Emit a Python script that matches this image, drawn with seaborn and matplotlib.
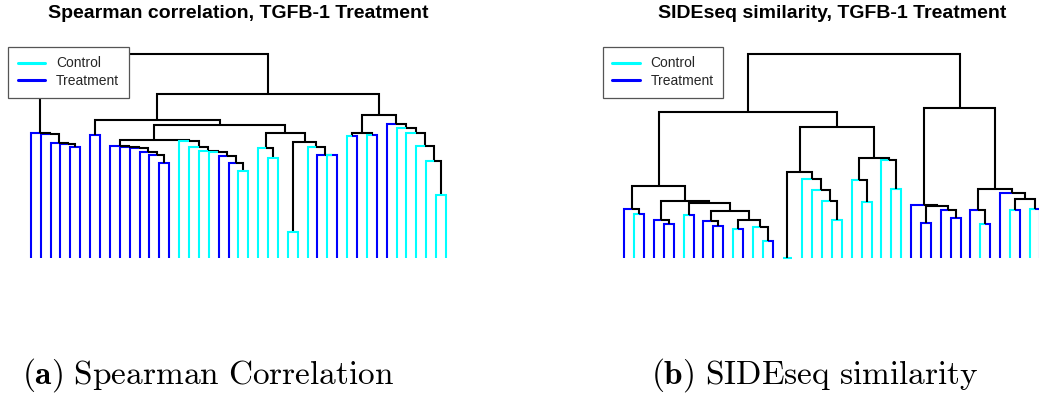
import matplotlib
matplotlib.use("Agg")
import matplotlib.pyplot as plt
from matplotlib.lines import Line2D
import pandas as pd
import seaborn as sns

# Sample groups in dendrogram leaf order
spearman_groups = (["Treatment"] * 15 + ["Control"] * 4 + ["Treatment"] * 2 + ["Control"] * 8
                   + ["Treatment", "Control", "Treatment", "Control", "Treatment", "Control",
                      "Treatment", "Treatment"] + ["Control"] * 6)
sideseq_groups = (["Treatment", "Control", "Treatment", "Treatment", "Treatment", "Treatment",
                   "Control", "Treatment", "Treatment", "Treatment", "Treatment", "Control",
                   "Treatment", "Control", "Control", "Treatment", "Control", "Control"]
                  + ["Control"] * 11 + ["Treatment"] * 7
                  + ["Control", "Treatment", "Treatment", "Control", "Treatment", "Control", "Treatment"])

# hclust-style merges: negative = sample (1-based), positive = earlier merge row (1-based)
spearman_merge_a = [-5, -4, -3, -2, -1, -7, -14, -13, -12, -11, -10, -9, -22, -21, -20, -19, -18,
                    -17, -16, 12, -25, -24, -27, -31, -30, -29, 23, 22, 20, 6, -33, -35, 31, -42,
                    -41, -40, -39, -38, -37, 33, 30, 5]
spearman_merge_b = [-6, 1, 2, 3, 4, -8, -15, 7, 8, 9, 10, 11, -23, 13, 14, 15, 16, 17, 18, 19, -26,
                    21, -28, -32, 24, 25, 26, 27, 28, 29, -34, -36, 32, -43, 34, 35, 36, 37, 38, 39,
                    40, 41]
spearman_height = [0.546, 0.562, 0.567, 0.611, 0.614, 0.603, 0.467, 0.505, 0.521, 0.543, 0.548,
                   0.549, 0.426, 0.467, 0.500, 0.521, 0.526, 0.546, 0.575, 0.582, 0.492, 0.541,
                   0.129, 0.505, 0.508, 0.546, 0.569, 0.614, 0.655, 0.676, 0.598, 0.603, 0.614,
                   0.309, 0.477, 0.550, 0.616, 0.639, 0.658, 0.704, 0.807, 1.000]

sideseq_merge_a = [-2, -1, -5, -4, -7, -10, -9, -12, -15, -14, 8, 7, 5, 4, 2, -17, -22, -21, -20,
                   -19, 16, -25, -24, -28, -27, 23, 21, 15, -31, -34, -33, 29, -30, -37, -36, -40,
                   -42, 36, -39, 35, 33, 28]
sideseq_merge_b = [-3, 1, -6, 3, -8, -11, 6, -13, -16, 9, 10, 11, 12, 13, 14, -18, -23, 17, 18, 19,
                   20, -26, 22, -29, 24, 25, 26, 27, -32, -35, 30, 31, 32, -38, 34, -41, -43, 37,
                   38, 39, 40, 41]
sideseq_height = [0.216, 0.241, 0.170, 0.190, 0.211, 0.157, 0.183, 0.146, 0.085, 0.151, 0.190,
                  0.232, 0.271, 0.281, 0.356, 0.003, 0.187, 0.281, 0.334, 0.391, 0.421, 0.276,
                  0.383, 0.342, 0.481, 0.491, 0.645, 0.715, 0.173, 0.200, 0.236, 0.254, 0.259,
                  0.170, 0.239, 0.236, 0.244, 0.293, 0.321, 0.339, 0.738, 1.000]

titles = ["Spearman correlation, TGFB-1 Treatment", "SIDEseq similarity, TGFB-1 Treatment"]
captions = [r"$\mathbf{(a)}\ \mathrm{Spearman\ Correlation}$",
            r"$\mathbf{(b)}\ \mathrm{SIDEseq\ similarity}$"]

palette = {"Control": "#00FFFF", "Treatment": "#0000FF", "branch": "#000000"}


def dendrogram_edges(merge_a, merge_b, heights, groups):
    """Rectangular dendrogram edges: each child gets an L-shaped edge up to its parent."""
    node_x, node_h, rows = [], [], []

    def child(c):
        if c < 0:
            return float(-c - 1), 0.0, groups[-c - 1]
        return node_x[c - 1], node_h[c - 1], "branch"

    for i, (a, b, h) in enumerate(zip(merge_a, merge_b, heights)):
        ca, cb = child(a), child(b)
        xm = (ca[0] + cb[0]) / 2
        for side, (xc, hc, kind) in enumerate((ca, cb)):
            edge = f"{i}-{side}"
            rows += [(edge, xc, hc, kind), (edge, xc, h, kind), (edge, xm, h, kind)]
        node_x.append(xm)
        node_h.append(h)
    return pd.DataFrame(rows, columns=["edge", "x", "height", "kind"])


sns.set_theme(style="white")
plt.rcParams["font.family"] = ["Liberation Sans", "DejaVu Sans"]
plt.rcParams["mathtext.fontset"] = "cm"

W, H = 1039, 401
fig = plt.figure(figsize=(W / 100, H / 100), dpi=100)

panels = [
    (spearman_merge_a, spearman_merge_b, spearman_height, spearman_groups, 25.8, 237.8, 8.3, 22),
    (sideseq_merge_a, sideseq_merge_b, sideseq_height, sideseq_groups, 619.4, 831.7, 602.7, 651),
]

for k, (ma, mb, hts, grp, left_px, title_px, legend_px, cap_px) in enumerate(panels):
    n = len(grp)
    ax = fig.add_axes([left_px / W, (H - 258.3) / H, n * 9.888 / W, 204 / H])
    edges = dendrogram_edges(ma, mb, hts, grp)
    sns.lineplot(data=edges, x="x", y="height", units="edge", estimator=None, sort=False,
                 hue="kind", palette=palette, linewidth=1.5, legend=False, ax=ax)
    for ln in ax.lines:
        ln.set_clip_on(False)
        ln.set_solid_joinstyle("miter")
        ln.set_solid_capstyle("butt")
    ax.set_xlim(-0.5, n - 0.5)
    ax.set_ylim(0, 1)
    ax.set_axis_off()

    fig.text(title_px / W, 1 - 14 / H, titles[k], ha="center", va="center",
             fontsize=14, fontweight="bold", color="black")

    handles = [Line2D([], [], color=palette["Control"], lw=2.2),
               Line2D([], [], color=palette["Treatment"], lw=2.2)]
    leg = fig.legend(handles, ["Control", "Treatment"], loc="upper left",
                     bbox_to_anchor=(legend_px / W, 1 - 46.7 / H), fontsize=10,
                     frameon=True, fancybox=False, framealpha=1, edgecolor="#555555",
                     borderpad=0.7, handlelength=1.95, handletextpad=0.8, labelspacing=0.28,
                     borderaxespad=0)
    leg.get_frame().set_linewidth(0.9)

    fig.text(cap_px / W, 1 - 384 / H, captions[k], ha="left", va="baseline",
             fontsize=24, color="black")

fig.savefig("out.png", dpi=100)
